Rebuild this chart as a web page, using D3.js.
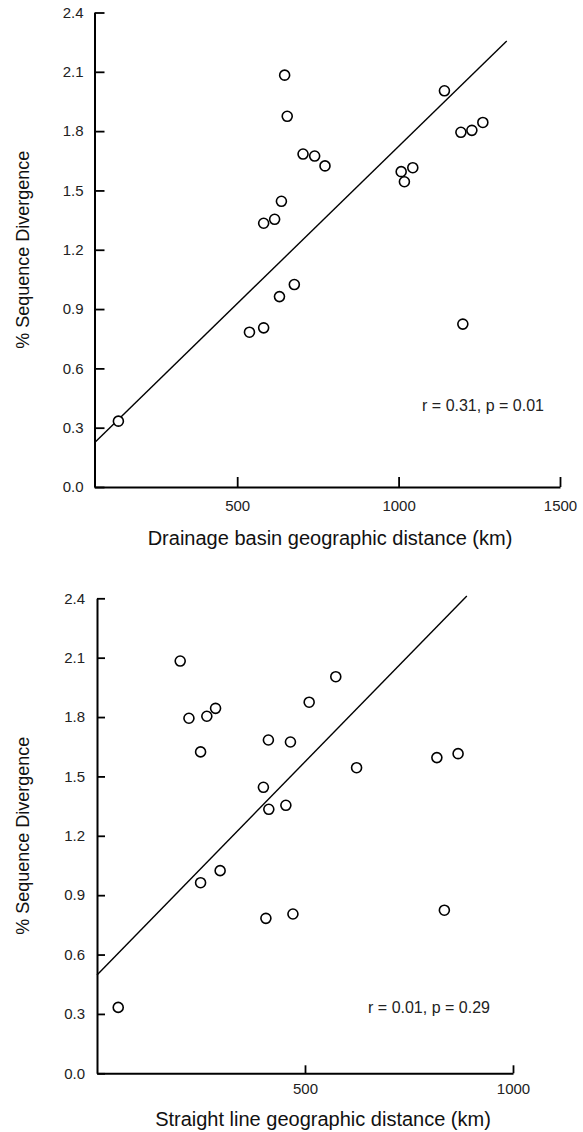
<!DOCTYPE html>
<html>
<head>
<meta charset="utf-8">
<script src="https://cdn.jsdelivr.net/npm/d3@7"></script>
<style>
  html, body { margin: 0; padding: 0; background: #fff; }
  svg { display: block; font-family: "Liberation Sans", Arial, Helvetica, sans-serif; }
</style>
</head>
<body>
<svg id="chart" width="583" height="1132"></svg>
<script>
// ---- data ----
const divergence       = [0.333, 0.783, 0.805, 0.963, 1.024, 1.334, 1.354, 1.445, 2.083, 1.875, 1.684, 1.674, 1.624, 1.595, 1.544, 1.615, 2.004, 1.794, 1.804, 1.844, 0.824];
const basinDistance    = [132, 538, 582, 631, 677, 582, 616, 637, 647, 655, 704, 740, 772, 1008, 1018, 1044, 1142, 1193, 1227, 1261, 1199];
const straightDistance = [51, 406, 471, 249, 296, 413, 454, 400, 200, 510, 412, 465, 249, 817, 624, 868, 574, 221, 264, 285, 835];

const basinFitX = [58, 1335];
const basinFitY = [0.224, 2.256];
const straightFitX = [0, 889];
const straightFitY = [0.497, 2.412];

const yTicks = [0.0, 0.3, 0.6, 0.9, 1.2, 1.5, 1.8, 2.1, 2.4];
const basinTicks = [500, 1000, 1500];
const straightTicks = [500, 1000];

const yTitle = "% Sequence Divergence";
const basinTitle = "Drainage basin geographic distance (km)";
const straightTitle = "Straight line geographic distance (km)";
const basinStat = "r = 0.31, p = 0.01";
const straightStat = "r = 0.01, p = 0.29";

// ---- drawing ----
const svg = d3.select("#chart");

function panel(cfg) {
  const g = svg.append("g");
  const x = d3.scaleLinear().domain(cfg.xDomain).range(cfg.xRange);
  const y = d3.scaleLinear().domain([0, 2.4]).range(cfg.yRange);

  // y axis
  const ya = g.append("g")
    .attr("transform", `translate(${cfg.xRange[0]},0)`)
    .call(d3.axisLeft(y).tickValues(yTicks).tickFormat(d3.format(".1f"))
      .tickSizeInner(-cfg.tick).tickSizeOuter(0).tickPadding(cfg.yPad));
  // x axis
  const xa = g.append("g")
    .attr("transform", `translate(0,${cfg.yRange[0]})`)
    .call(d3.axisBottom(x).tickValues(cfg.xTicks).tickFormat(d3.format("d"))
      .tickSizeInner(-cfg.tick).tickSizeOuter(0).tickPadding(cfg.xPad));
  [ya, xa].forEach(a => {
    a.select(".domain").attr("stroke", "#000").attr("stroke-width", 2);
    a.selectAll(".tick line").attr("stroke", "#000").attr("stroke-width", 1.8);
    a.selectAll(".tick text").attr("fill", "#222").attr("font-size", 15)
      .attr("font-family", "Liberation Sans, Arial, sans-serif");
  });

  // regression line
  g.append("line")
    .attr("x1", x(cfg.fitX[0])).attr("y1", y(cfg.fitY[0]))
    .attr("x2", x(cfg.fitX[1])).attr("y2", y(cfg.fitY[1]))
    .attr("stroke", "#000").attr("stroke-width", 1.4);

  // points
  g.selectAll("circle.pt")
    .data(cfg.xs.map((d, i) => [d, divergence[i]]))
    .join("circle")
    .attr("class", "pt")
    .attr("cx", d => x(d[0])).attr("cy", d => y(d[1]))
    .attr("r", 5)
    .attr("fill", "#fff").attr("stroke", "#000").attr("stroke-width", 1.6);

  // stat annotation
  g.append("text")
    .attr("x", cfg.statX).attr("y", cfg.statY)
    .attr("text-anchor", "middle").attr("font-size", 16).attr("fill", "#222")
    .text(cfg.stat);

  // x title
  g.append("text")
    .attr("x", cfg.xTitleX).attr("y", cfg.xTitleY)
    .attr("text-anchor", "middle").attr("font-size", 20).attr("fill", "#111")
    .text(cfg.xTitle);

  // y title
  const yc = (cfg.yRange[0] + cfg.yRange[1]) / 2;
  g.append("text")
    .attr("transform", `translate(29,${yc}) rotate(-90)`)
    .attr("text-anchor", "middle").attr("font-size", 18).attr("fill", "#111")
    .text(yTitle);
}

panel({
  xDomain: [58, 1500], xRange: [94.5, 560], yRange: [487, 12.5],
  xTicks: basinTicks, tick: 10, yPad: 11, xPad: 13,
  xs: basinDistance, fitX: basinFitX, fitY: basinFitY,
  stat: basinStat, statX: 483, statY: 411,
  xTitle: basinTitle, xTitleX: 330, xTitleY: 545
});

panel({
  xDomain: [0, 1000], xRange: [97, 513], yRange: [1073.3, 598.3],
  xTicks: straightTicks, tick: 8, yPad: 12, xPad: 10,
  xs: straightDistance, fitX: straightFitX, fitY: straightFitY,
  stat: straightStat, statX: 429, statY: 1013,
  xTitle: straightTitle, xTitleX: 323, xTitleY: 1126
});
</script>
</body>
</html>
